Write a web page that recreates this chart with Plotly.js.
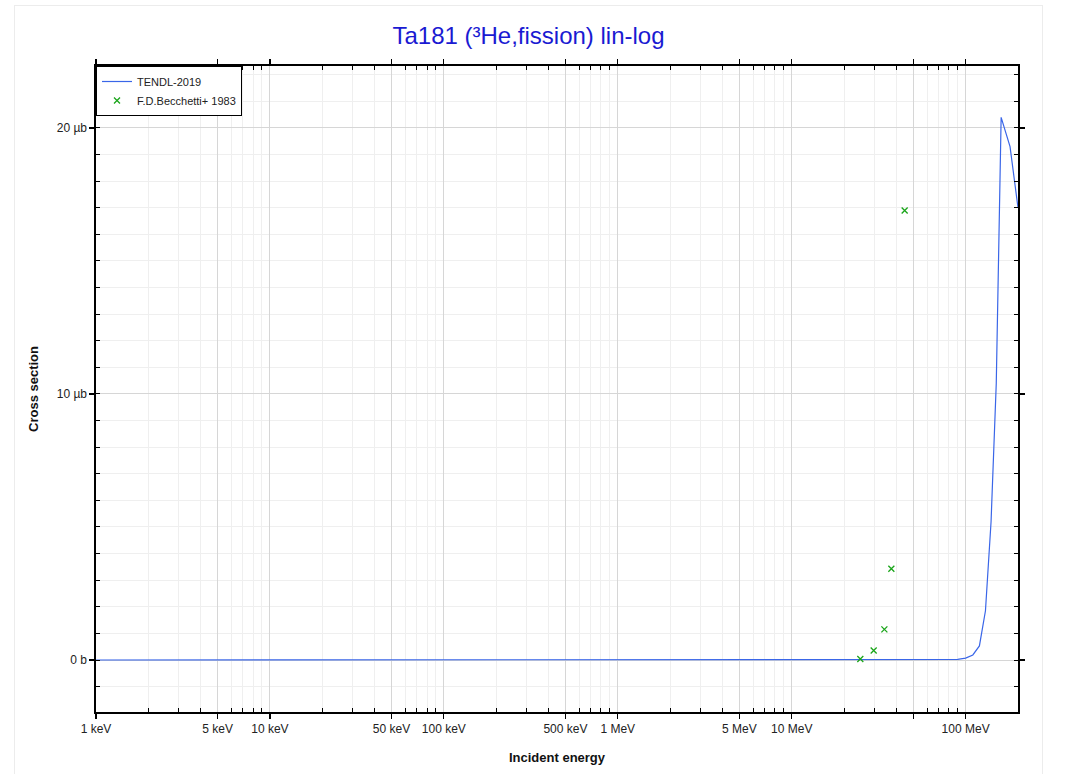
<!DOCTYPE html>
<html>
<head>
<meta charset="utf-8">
<script src="https://cdn.plot.ly/plotly-3.0.1.min.js"></script>
<style>
  html, body { margin: 0; padding: 0; background: #fff; overflow: hidden; }
  #frame { position: absolute; left: 14px; top: 5px; width: 1027px; height: 800px; border: 1px solid #ececec; }
  #chart { position: absolute; left: 0; top: 0; width: 1027px; height: 790px; }
</style>
</head>
<body>
<div id="frame"><div id="chart"></div></div>
<script>
// TENDL-2019 evaluation: energy (MeV), cross section (µb)
const tendlEnergy = [0.001, 0.01, 0.1, 1, 10, 50, 80, 90, 100, 110, 120, 130, 140, 150, 160, 180, 200];
const tendlXs     = [0, 0, 0, 0, 0, 0, 0.005, 0.02, 0.07, 0.19, 0.53, 1.85, 5.2, 10.4, 20.4, 19.3, 17.0];

// F.D.Becchetti+ 1983 measurement: energy (MeV), cross section (µb)
const expEnergy = [24.8, 29.6, 34.1, 37.4, 44.6];
const expXs     = [0.04, 0.36, 1.15, 3.43, 16.9];

// Axis ticks
const xTickVals  = [0.001, 0.005, 0.01, 0.05, 0.1, 0.5, 1, 5, 10, 50, 100];
const xTickText  = ["1 keV", "5 keV", "10 keV", "50 keV", "100 keV", "500 keV", "1 MeV", "5 MeV", "10 MeV", "", "100 MeV"];
const yTickVals  = [0, 10, 20];
const yTickText  = ["0 b", "10 µb", "20 µb"];

// minor tick positions on the log axis (2,3,4,6,7,8,9 × decade)
const minorMult = [2, 3, 4, 6, 7, 8, 9];
const xMinor = [];
for (let d = -3; d <= 2; d++) {
  minorMult.forEach(m => { const v = m * Math.pow(10, d); if (v <= 200) xMinor.push(v); });
}

const font = "Liberation Sans, Arial, sans-serif";

const traces = [
  {
    x: tendlEnergy, y: tendlXs, type: "scatter", mode: "lines",
    name: "TENDL-2019",
    line: { color: "#3a66e8", width: 1.2 },
    hoverinfo: "skip"
  },
  {
    x: expEnergy, y: expXs, type: "scatter", mode: "markers",
    name: "F.D.Becchetti+ 1983",
    marker: { symbol: "x-thin-open", size: 6, color: "#1aa51a", line: { color: "#1aa51a", width: 1.3 } },
    hoverinfo: "skip"
  }
];

const layout = {
  width: 1027, height: 790,
  margin: { l: 81, r: 24, t: 60, b: 84 },
  paper_bgcolor: "#fff", plot_bgcolor: "#fff",
  font: { family: font, size: 12, color: "#222" },
  title: {
    text: "Ta181 (³He,fission) lin-log",
    font: { family: font, size: 24, color: "#1a1ad2" },
    x: 0.5, xanchor: "center", xref: "container",
    y: 0.963, yanchor: "middle", yref: "container"
  },
  showlegend: true,
  legend: {
    x: 0, y: 1, xanchor: "left", yanchor: "top",
    bgcolor: "#fff", bordercolor: "#000", borderwidth: 1,
    font: { family: font, size: 11, color: "#222" },
    tracegroupgap: 0, itemwidth: 30
  },
  xaxis: {
    type: "log",
    range: [-3, Math.log10(200)],
    tickmode: "array", tickvals: xTickVals, ticktext: xTickText,
    ticks: "outside", ticklen: 5, tickwidth: 1.2, tickcolor: "#000",
    showline: true, linecolor: "#000", linewidth: 1.6, mirror: "ticks",
    showgrid: true, gridcolor: "#d6d6d6", gridwidth: 1,
    zeroline: false,
    tickfont: { family: font, size: 12, color: "#222" },
    minor: {
      tickmode: "array", tickvals: xMinor,
      ticks: "inside", ticklen: 4, tickcolor: "#000", tickwidth: 1,
      showgrid: true, gridcolor: "#efefef", gridwidth: 1
    },
    title: { text: "<b>Incident energy</b>", font: { family: font, size: 13, color: "#111" }, standoff: 18 }
  },
  yaxis: {
    range: [-1.955, 22.33],
    tickmode: "array", tickvals: yTickVals, ticktext: yTickText,
    ticks: "outside", ticklen: 5, tickwidth: 1.2, tickcolor: "#000",
    showline: true, linecolor: "#000", linewidth: 1.6, mirror: "ticks",
    showgrid: true, gridcolor: "#d6d6d6", gridwidth: 1,
    zeroline: false,
    tickfont: { family: font, size: 12, color: "#222" },
    minor: {
      tickmode: "linear", tick0: 0, dtick: 1,
      ticks: "inside", ticklen: 4, tickcolor: "#000", tickwidth: 1,
      showgrid: true, gridcolor: "#efefef", gridwidth: 1
    },
    title: { text: "<b>Cross section</b>", font: { family: font, size: 13, color: "#111" }, standoff: 15 }
  }
};

Plotly.newPlot("chart", traces, layout, { staticPlot: true, displayModeBar: false });
</script>
</body>
</html>
